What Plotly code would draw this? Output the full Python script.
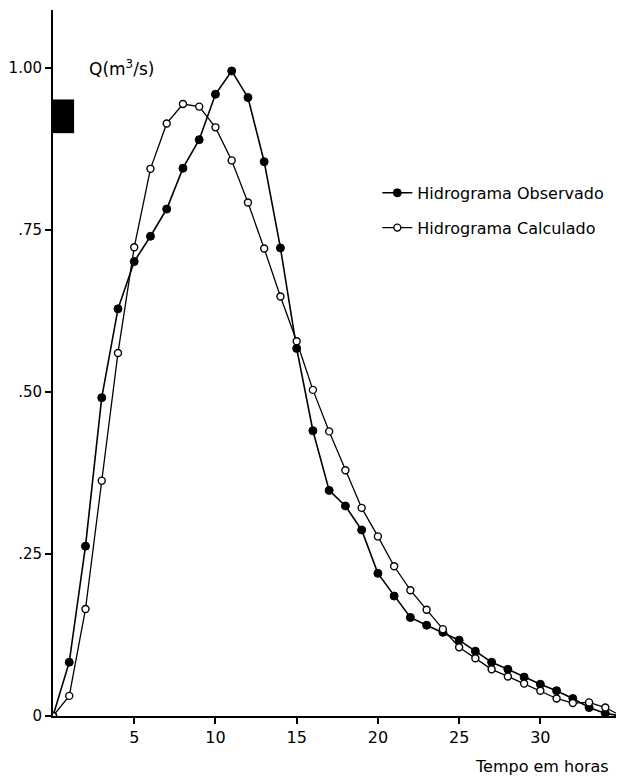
import plotly.graph_objects as go

hours = list(range(0, 36))
observed = [0, 0.083, 0.262, 0.491, 0.628, 0.701, 0.740, 0.782, 0.845, 0.889,
            0.959, 0.995, 0.954, 0.855, 0.722, 0.567, 0.440, 0.348, 0.324, 0.287,
            0.220, 0.185, 0.152, 0.140, 0.129, 0.117, 0.100, 0.083, 0.072, 0.060,
            0.049, 0.039, 0.027, 0.013, 0.004, 0.0]
calculated = [0, 0.031, 0.165, 0.363, 0.560, 0.723, 0.844, 0.914, 0.944, 0.940,
              0.908, 0.857, 0.792, 0.721, 0.647, 0.578, 0.503, 0.439, 0.379, 0.321,
              0.277, 0.231, 0.194, 0.164, 0.134, 0.106, 0.089, 0.072, 0.061, 0.050,
              0.039, 0.027, 0.020, 0.021, 0.013, 0.0]

x_ticks = [5, 10, 15, 20, 25, 30]
y_ticks = [0, 0.25, 0.50, 0.75, 1.00]
y_tick_labels = ["0", ".25", ".50", ".75", "1.00"]

FONT = "DejaVu Sans"

fig = go.Figure()
fig.add_trace(go.Scatter(
    x=hours, y=observed, mode="lines+markers", name="Hidrograma Observado",
    legendgroup="a",
    line=dict(color="black", width=1.6),
    marker=dict(symbol="circle", size=8, color="black", line=dict(color="black", width=1)),
))
fig.add_trace(go.Scatter(
    x=hours, y=calculated, mode="lines+markers", name="Hidrograma Calculado",
    legendgroup="b",
    line=dict(color="black", width=1.3),
    marker=dict(symbol="circle", size=7, color="white", line=dict(color="black", width=1.4)),
))

fig.update_layout(
    width=616, height=769,
    margin=dict(l=45, r=0, t=2, b=61, autoexpand=False),
    paper_bgcolor="white", plot_bgcolor="white",
    font=dict(family=FONT, color="black", size=16),
    showlegend=True,
    legend=dict(x=0.568, y=0.765, xanchor="left", yanchor="top",
                font=dict(size=16, family=FONT), tracegroupgap=11,
                traceorder="grouped", bgcolor="rgba(0,0,0,0)"),
    xaxis=dict(range=[0, 35.15], tickvals=x_ticks, showgrid=False, zeroline=False,
               showline=True, linecolor="black", linewidth=2,
               ticks="outside", ticklen=6, tickwidth=1.5, tickcolor="black",
               tickfont=dict(size=16), automargin=False),
    yaxis=dict(range=[0, 1.089], tickvals=y_ticks, ticktext=y_tick_labels,
               showgrid=False, zeroline=False,
               showline=True, linecolor="black", linewidth=2,
               ticks="outside", ticklen=6, tickwidth=1.5, tickcolor="black",
               tickfont=dict(size=15), automargin=False),
)

fig.add_shape(type="rect", xref="x", yref="y", x0=0, x1=1.3, y0=0.899, y1=0.951,
              fillcolor="black", line=dict(color="black", width=0))

fig.add_annotation(text="Q(m<sup>3</sup>/s)", xref="x", yref="y", x=2.1, y=1.0,
                   xanchor="left", yanchor="middle", showarrow=False,
                   font=dict(size=17, family=FONT))
fig.add_annotation(text="Tempo em horas", xref="x", yref="paper", x=30.1, y=0,
                   xanchor="center", yanchor="top", yshift=-39, showarrow=False,
                   font=dict(size=16, family=FONT))

fig.write_html("out.html")
